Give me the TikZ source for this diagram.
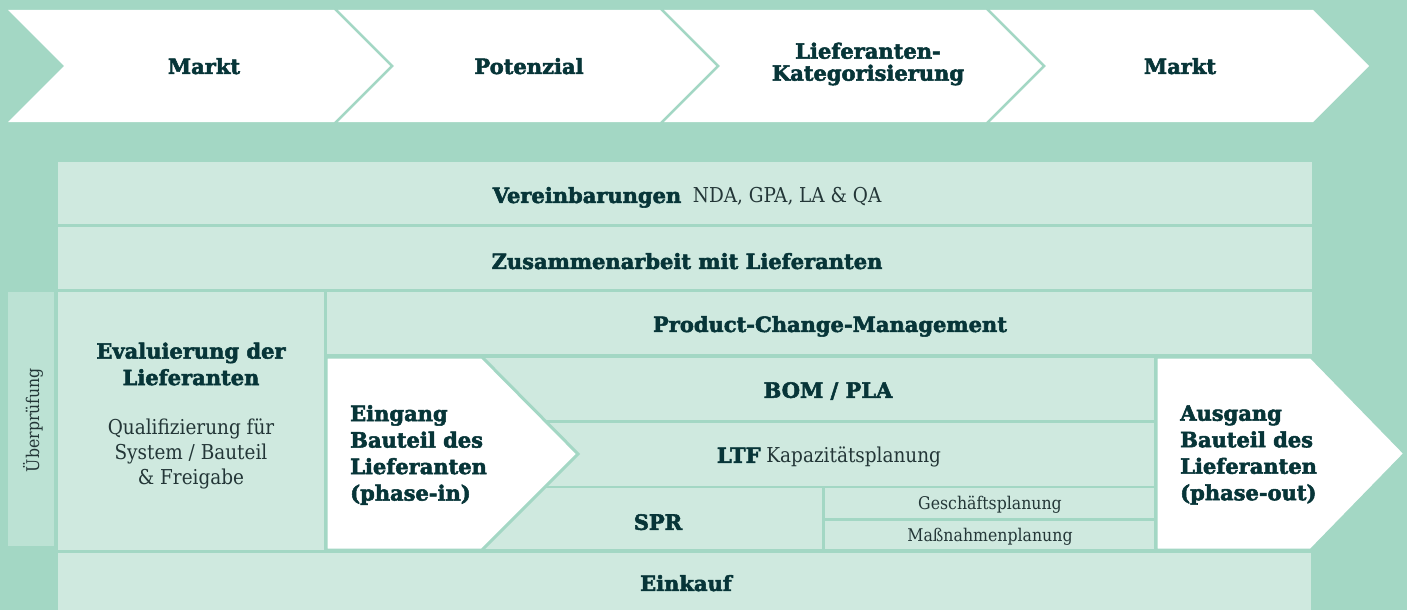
\documentclass[tikz,border=0pt]{standalone}
\usepackage{fontspec}
\setmainfont{DejaVu Serif Condensed}
\newfontfamily\widefont{DejaVu Serif}[BoldFeatures={FakeBold=2.5}]
\definecolor{mint}{HTML}{A3D7C4}
\definecolor{pale}{HTML}{CFE9DF}
\definecolor{stripc}{HTML}{BCE2D4}
\definecolor{ink}{HTML}{073538}
\definecolor{inkreg}{HTML}{233637}
\newcommand\hdb[1]{{\widefont\bfseries\fontsize{21}{25}\selectfont\color{ink}#1}}
\tikzset{
  hd/.style={font=\widefont\bfseries\fontsize{21}{26.5}\selectfont, text=ink, inner sep=0pt},
  chevtxt/.style={font=\widefont\bfseries\fontsize{21}{22}\selectfont, text=ink, inner sep=0pt},
  rg/.style={font=\fontsize{20.5}{25}\selectfont, text=inkreg, inner sep=0pt},
  sm/.style={font=\fontsize{17.5}{20}\selectfont, text=inkreg, inner sep=0pt},
  one/.style={text depth=0pt},
  band/.style={fill=pale},
  arrowbox/.style={fill=white, draw=mint, line width=3pt, line join=miter}
}
\begin{document}
\begin{tikzpicture}[x=1pt,y=-1pt]
\useasboundingbox (0,0) rectangle (1407,610);
\fill[mint] (0,0) rectangle (1407,610);
% top process chevrons
\fill[white] (8,10) -- (334,10) -- (390,66) -- (334,122) -- (8,122) -- (64,66) -- cycle;
\fill[white] (338,10) -- (660,10) -- (716,66) -- (660,122) -- (338,122) -- (394,66) -- cycle;
\fill[white] (664,10) -- (986,10) -- (1042,66) -- (986,122) -- (664,122) -- (720,66) -- cycle;
\fill[white] (990,10) -- (1313,10) -- (1369,66) -- (1313,122) -- (990,122) -- (1046,66) -- cycle;
% bands
\fill[band] (58,162) rectangle (1312,224);
\fill[band] (58,227) rectangle (1312,289);
\fill[stripc] (8,292) rectangle (54,546);
\fill[band] (58,292) rectangle (324,550);
\fill[band] (327,292) rectangle (1312,354);
\fill[band] (327,358) rectangle (1154,420);
\fill[band] (327,423) rectangle (1154,486);
\fill[band] (327,488) rectangle (822,549);
\fill[band] (825,488) rectangle (1154,518);
\fill[band] (825,521) rectangle (1154,549);
\fill[band] (58,553) rectangle (1311,610);
% phase-in / phase-out arrows
\path[arrowbox] (326,357) -- (482,357) -- (578,454) -- (482,550) -- (326,550) -- cycle;
\path[arrowbox] (1156,357) -- (1311,357) -- (1405,453.5) -- (1311,550) -- (1156,550) -- cycle;
% texts top
\node[chevtxt, one] (m1) at (204,66) {Markt};
\node[chevtxt, one] (pot) at (529,66) {Potenzial};
\node[chevtxt, align=center] (lk) at (868,64) {Lieferanten-\\Kategorisierung};
\node[chevtxt, one] (m2) at (1180,66) {Markt};
% texts lower
\node[rg, one] (ver) at (687,195) {\hdb{Vereinbarungen}\ \ NDA, GPA, LA \& QA};
\node[hd, one] (zus) at (687,261) {Zusammenarbeit mit Lieferanten};
\node[hd, one] (pcm) at (830,324) {Product-Change-Management};
\node[hd, align=center] (eva) at (191,364) {Evaluierung der\\Lieferanten};
\node[rg, align=center] (qual) at (191,454) {Qualifizierung für\\System / Bauteil\\\& Freigabe};
\node[sm, one, rotate=90] (ueb) at (31,420) {Überprüfung};
\node[hd, align=left, anchor=west] (pin) at (350,455) {Eingang\\Bauteil des\\Lieferanten\\(phase-in)};
\node[hd, one] (bom) at (828,390) {BOM / PLA};
\node[rg, one] (ltf) at (829,455) {\hdb{LTF}\ Kapazitätsplanung};
\node[hd, one] (spr) at (658,522) {SPR};
\node[sm, one] (ges) at (990,503) {Geschäftsplanung};
\node[sm, one] (mas) at (990,535) {Maßnahmenplanung};
\node[hd, align=left, anchor=west] (pout) at (1180,455) {Ausgang\\Bauteil des\\Lieferanten\\(phase-out)};
\node[hd, one] (ein) at (686,583) {Einkauf};
\end{tikzpicture}
\end{document}
